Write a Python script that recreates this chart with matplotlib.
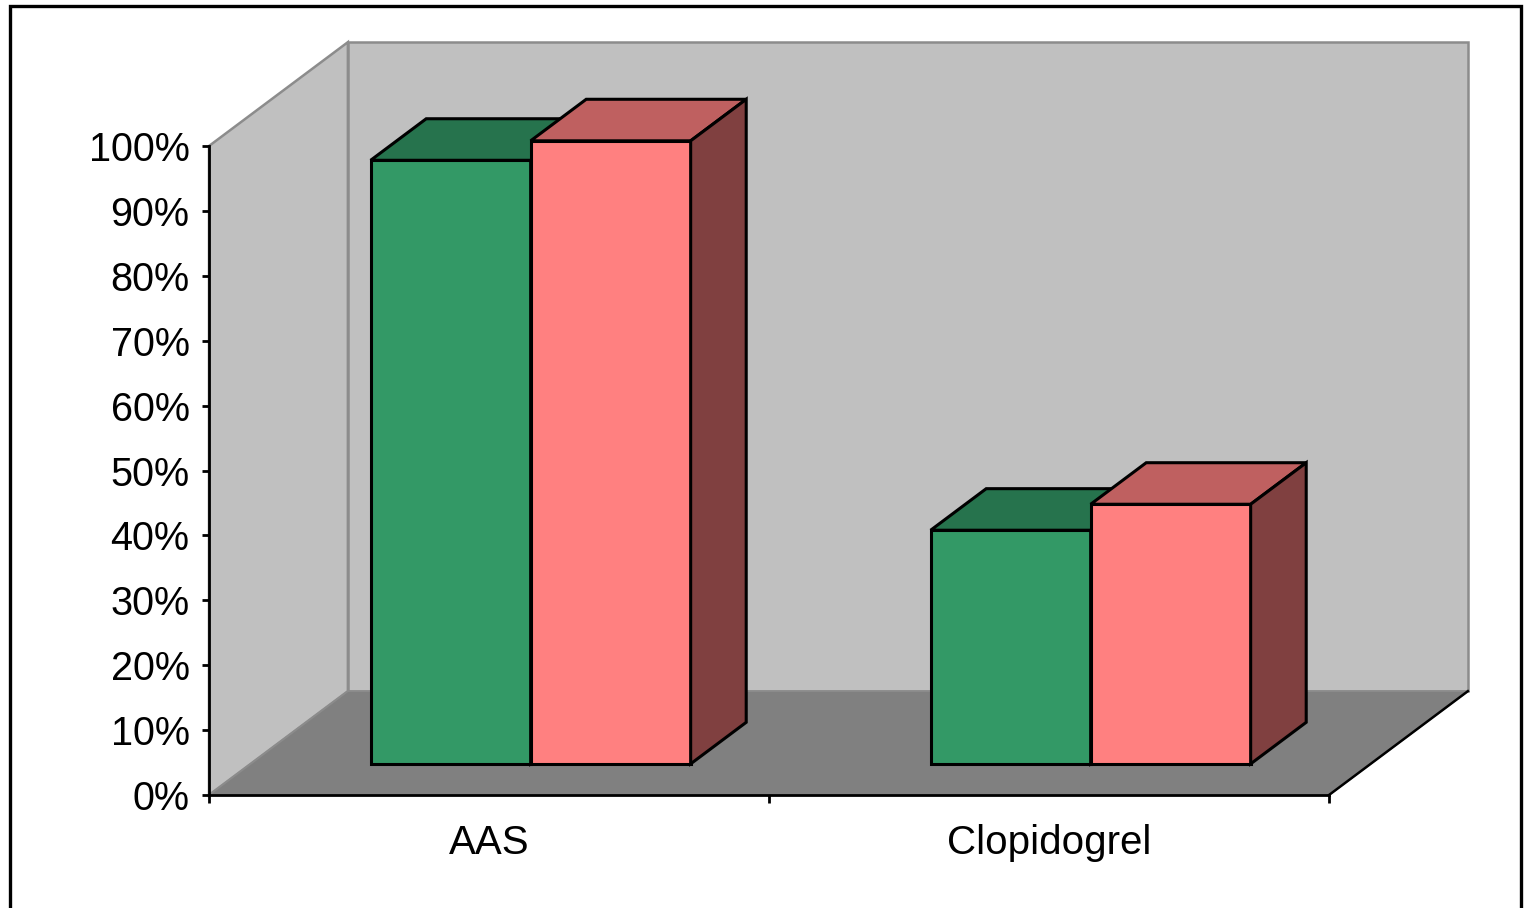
import matplotlib.pyplot as plt
from matplotlib.patches import Polygon, Rectangle
from matplotlib.ticker import FuncFormatter

plt.rcParams['font.family'] = ['Liberation Sans', 'DejaVu Sans']

categories = ['AAS', 'Clopidogrel']
series_a = [93, 36]
series_b = [96, 40]

front_colors = ['#339966', '#FF8080']
top_colors = ['#26734D', '#BF6060']
side_colors = ['#1A4D33', '#804040']

# oblique depth offset of the floor, in data units (categories, percent)
DX = 0.248
DY = 16.0
# bars sit between 30% and 70% of the floor depth
F0, F1 = 0.3, 0.7
BAR_W = 1 / 3.5

fig = plt.figure(figsize=(15.27, 9.08), dpi=100)
ax = fig.add_axes([209 / 1527, 113 / 908, 1120 / 1527, 649 / 908])
ax.set_xlim(0, len(categories))
ax.set_ylim(0, 100)
ax.patch.set_visible(False)

n = len(categories)
wall = dict(facecolor='#C0C0C0', edgecolor='#8C8C8C', lw=1.8, clip_on=False, zorder=0)
ax.add_patch(Polygon([(0, 0), (DX, DY), (DX, 100 + DY), (0, 100)], closed=True, **wall))
ax.add_patch(Polygon([(DX, DY), (n + DX, DY), (n + DX, 100 + DY), (DX, 100 + DY)], closed=True, **wall))
ax.add_patch(Polygon([(0, 0), (n, 0), (n + DX, DY), (DX, DY)], closed=True,
                     facecolor='#808080', edgecolor='#8C8C8C', lw=1.2, clip_on=False, zorder=0))
ax.plot([n, n + DX], [0, DY], color='black', lw=1.8, clip_on=False, zorder=1)


def draw_bar(x0, v, j):
    """Front face, top and right side of one block."""
    x1 = x0 + BAR_W
    fx, fy = F0 * DX, F0 * DY
    bx, by = F1 * DX, F1 * DY
    kw = dict(closed=True, edgecolor='black', lw=2.2, clip_on=False, zorder=2,
              joinstyle='miter')
    ax.add_patch(Polygon([(x0 + fx, fy), (x1 + fx, fy), (x1 + fx, fy + v), (x0 + fx, fy + v)],
                         facecolor=front_colors[j], **kw))
    ax.add_patch(Polygon([(x0 + fx, fy + v), (x1 + fx, fy + v), (x1 + bx, by + v), (x0 + bx, by + v)],
                         facecolor=top_colors[j], **kw))
    ax.add_patch(Polygon([(x1 + fx, fy), (x1 + bx, by), (x1 + bx, by + v), (x1 + fx, fy + v)],
                         facecolor=side_colors[j], **kw))


for i in range(n):
    start = i + 0.75 / 3.5
    for j, vals in enumerate([series_a, series_b]):
        draw_bar(start + j * BAR_W, vals[i], j)

for side in ['top', 'right']:
    ax.spines[side].set_visible(False)
for side in ['left', 'bottom']:
    ax.spines[side].set_linewidth(2.0)
    ax.spines[side].set_zorder(3)

ax.set_yticks(range(0, 101, 10))
ax.yaxis.set_major_formatter(FuncFormatter(lambda v, p: f'{v:.0f}%'))
ax.tick_params(axis='y', direction='out', length=5, width=2.0, pad=9, labelsize=28.5)

ax.set_xticks(range(n + 1))
ax.set_xticklabels([])
ax.set_xticks([i + 0.5 for i in range(n)], minor=True)
ax.set_xticklabels(categories, minor=True)
ax.tick_params(axis='x', which='major', direction='out', length=6, width=2.0)
ax.tick_params(axis='x', which='minor', length=0, pad=21, labelsize=29)

fig.add_artist(Rectangle((10 / 1527, -0.1), 1511 / 1527, 0.1 + 902 / 908, transform=fig.transFigure,
                         fill=False, edgecolor='black', lw=2.4))

fig.savefig('out.png', dpi=100)
